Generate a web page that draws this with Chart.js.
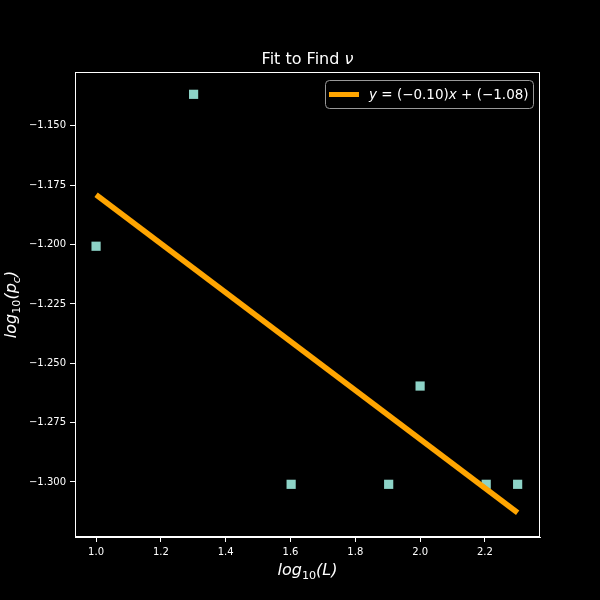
<!DOCTYPE html>
<html>
<head>
<meta charset="utf-8">
<script src="https://cdn.jsdelivr.net/npm/chart.js@4/dist/chart.umd.min.js"></script>
<style>
  html, body { margin: 0; padding: 0; background: #000; }
  #wrap { width: 600px; height: 600px; }
</style>
</head>
<body>
<div id="wrap"><canvas id="chart" width="600" height="600"></canvas></div>
<script>
// log10(L) vs log10(p_c)
const xVals = [1.0, 1.301, 1.602, 1.903, 2.0, 2.204, 2.301];
const yVals = [-1.2007, -1.1367, -1.301, -1.301, -1.2596, -1.301, -1.301];
// fitted line endpoints
const fitX = [1.0, 2.301];
const fitY = [-1.179, -1.313];
const xTicks = [1.0, 1.2, 1.4, 1.6, 1.8, 2.0, 2.2];
const yTicks = [-1.15, -1.175, -1.2, -1.225, -1.25, -1.275, -1.3];

const FONT = "'DejaVu Sans', sans-serif";
const MARKER = "#8dd3c7";
const FIT = "#ffa500";

const minus = (s) => s.replace("-", "\u2212");

// draw runs of text with italics / subscripts, centred on x
function drawRich(ctx, segs, x, y, size, align = "center") {
  const fontFor = (s) => `${s.italic ? "oblique " : ""}${s.sub ? size * 0.7 : size}px ${FONT}`;
  let total = 0;
  segs.forEach((s) => { ctx.font = fontFor(s); total += ctx.measureText(s.t).width; });
  let cx = align === "center" ? x - total / 2 : x;
  ctx.textBaseline = "alphabetic";
  ctx.textAlign = "left";
  segs.forEach((s) => {
    ctx.font = fontFor(s);
    ctx.fillText(s.t, cx, s.sub ? y + size * 0.25 : y);
    cx += ctx.measureText(s.t).width;
  });
  return total;
}

const textPlugin = {
  id: "mplText",
  afterDraw(chart) {
    const ctx = chart.ctx;
    const a = chart.chartArea;
    const mid = (a.left + a.right) / 2;
    ctx.save();

    // full frame like matplotlib spines
    ctx.strokeStyle = "#fff";
    ctx.lineWidth = 1;
    ctx.strokeRect(a.left + 0.5, a.top + 0.5, a.right - a.left - 1, a.bottom - a.top - 1);

    ctx.fillStyle = "#fff";
    drawRich(ctx, [{ t: "Fit to Find " }, { t: "\u03bd", italic: true }], mid, 64, 16);
    drawRich(ctx, [
      { t: "log", italic: true }, { t: "10", sub: true, italic: false }, { t: "(L)", italic: true },
    ], mid, 575, 16);
    ctx.save();
    ctx.translate(16, (a.top + a.bottom) / 2);
    ctx.rotate(-Math.PI / 2);
    drawRich(ctx, [
      { t: "log", italic: true }, { t: "10", sub: true }, { t: "(p", italic: true },
      { t: "c", italic: true, sub: true }, { t: ")", italic: true },
    ], 0, 0, 16);
    ctx.restore();

    // legend
    const bx = 325, by = 80, bw = 208, bh = 28;
    ctx.beginPath();
    ctx.roundRect(bx + 0.5, by + 0.5, bw, bh, 4);
    ctx.fillStyle = "#000";
    ctx.fill();
    ctx.strokeStyle = "#999";
    ctx.lineWidth = 1;
    ctx.stroke();
    ctx.beginPath();
    ctx.moveTo(bx + 4, by + 14.5);
    ctx.lineTo(bx + 34, by + 14.5);
    ctx.strokeStyle = FIT;
    ctx.lineWidth = 5;
    ctx.stroke();
    ctx.fillStyle = "#fff";
    drawRich(ctx, [
      { t: "y", italic: true }, { t: " = (\u22120.10)" }, { t: "x", italic: true },
      { t: " + (\u22121.08)" },
    ], bx + 44, by + 19, 13.5, "left");
    ctx.restore();
  },
};

new Chart(document.getElementById("chart"), {
  type: "scatter",
  data: {
    datasets: [
      {
        label: "fit",
        type: "line",
        data: fitX.map((x, i) => ({ x, y: fitY[i] })),
        borderColor: FIT,
        borderWidth: 5.5,
        pointRadius: 0,
        borderCapStyle: "butt",
        order: 0,
      },
      {
        label: "data",
        data: xVals.map((x, i) => ({ x, y: yVals[i] })),
        pointStyle: "rect",
        pointRadius: 6.5,
        backgroundColor: MARKER,
        borderColor: MARKER,
        borderWidth: 0,
        order: 1,
      },
    ],
  },
  options: {
    responsive: false,
    animation: false,
    devicePixelRatio: 1,
    layout: { padding: { top: 72, right: 60, bottom: 0, left: 0 } },
    plugins: { legend: { display: false }, tooltip: { enabled: false }, title: { display: false } },
    scales: {
      x: {
        type: "linear",
        min: 0.935,
        max: 2.37,
        afterBuildTicks: (s) => { s.ticks = xTicks.map((v) => ({ value: v })); },
        afterFit: (s) => { s.height = 63; },
        ticks: {
          color: "#fff",
          font: { family: FONT, size: 10 },
          padding: 4,
          maxRotation: 0,
          callback: (v) => minus(Number(v).toFixed(1)),
        },
        grid: { display: true, drawOnChartArea: false, drawTicks: true, tickLength: 5, color: "#fff" },
        border: { color: "#fff", width: 1 },
      },
      y: {
        type: "linear",
        min: -1.3232,
        max: -1.1273,
        afterBuildTicks: (s) => { s.ticks = yTicks.map((v) => ({ value: v })); },
        afterFit: (s) => { s.width = 75; },
        ticks: {
          color: "#fff",
          font: { family: FONT, size: 10 },
          padding: 4,
          callback: (v) => minus(Number(v).toFixed(3)),
        },
        grid: { display: true, drawOnChartArea: false, drawTicks: true, tickLength: 5, color: "#fff" },
        border: { color: "#fff", width: 1 },
      },
    },
  },
  plugins: [textPlugin],
});
</script>
</body>
</html>
